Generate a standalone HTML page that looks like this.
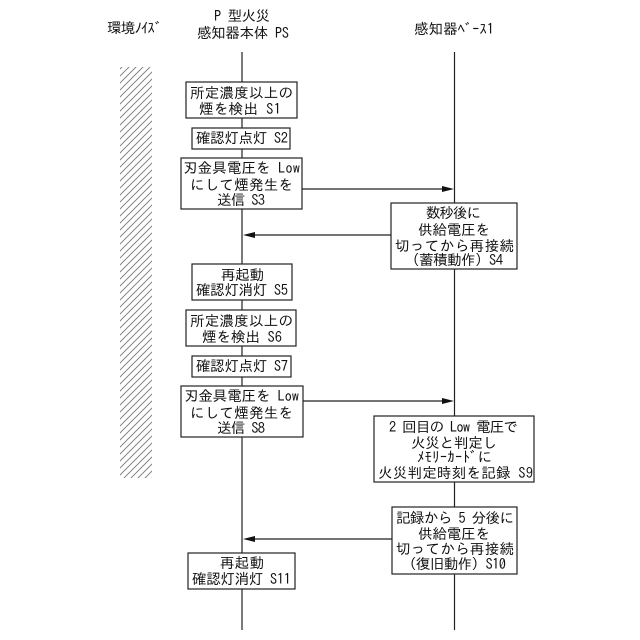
<!DOCTYPE html>
<html><head><meta charset="utf-8"><style>
html,body{margin:0;padding:0;background:#fff}
svg{display:block}
text{font-family:"IPAGothic","Liberation Sans","Noto Sans CJK JP",sans-serif;font-size:14.5px;fill:#111;text-anchor:middle}
rect{fill:#fff;stroke:#222;stroke-width:1.2}
line{stroke:#222;stroke-width:1.2}
polygon{fill:#111}
</style></head><body>
<svg width="640" height="640" viewBox="0 0 640 640" xmlns="http://www.w3.org/2000/svg">
<defs><pattern id="h" patternUnits="userSpaceOnUse" width="7" height="7"><path d="M-1.750 1.750L1.750-1.750M0 7L7 0M5.250 8.750L8.750 5.250" stroke="#777" stroke-width="0.9" fill="none"/></pattern></defs>
<rect x="120" y="67" width="32" height="411" style="fill:url(#h);stroke:none"/>
<line x1="242" y1="52" x2="242" y2="630"/>
<line x1="454.500" y1="52" x2="454.500" y2="630"/>

<line x1="302" y1="189" x2="444" y2="189"/><polygon points="454,189 442,186 442,192"/>
<line x1="391" y1="235" x2="253" y2="235"/><polygon points="243,235 255,232 255,238"/>
<line x1="303" y1="401" x2="444" y2="401"/><polygon points="454,401 442,398 442,404"/>
<line x1="392" y1="539" x2="253" y2="539"/><polygon points="243,539 255,536 255,542"/>

<text x="242" y="21" textLength="56">P 型火災</text>
<text x="243" y="38" textLength="92">感知器本体 PS</text>
<text x="134.500" y="33" textLength="55">環境ﾉｲｽﾞ</text>
<text x="454" y="34" textLength="80">感知器ﾍﾞｰｽ1</text>

<rect x="186" y="82" width="111" height="36"/>
<text x="241.500" y="98" textLength="103">所定濃度以上の</text>
<text x="240" y="114" textLength="82">煙を検出 S1</text>

<rect x="192" y="128" width="98" height="21"/>
<text x="242" y="143" textLength="92">確認灯点灯 S2</text>

<rect x="181" y="158" width="121" height="51"/>
<text x="241.500" y="173" textLength="117">刃金具電圧を Low</text>
<text x="241.500" y="190" textLength="103">にして煙発生を</text>
<text x="241" y="205" textLength="48">送信 S3</text>

<rect x="391" y="203" width="126" height="66"/>
<text x="453.500" y="218" textLength="55">数秒後に</text>
<text x="454" y="235" textLength="72">供給電圧を</text>
<text x="454.500" y="251" textLength="119">切ってから再接続</text>
<text x="454" y="265" textLength="98">（蓄積動作）S4</text>

<rect x="192" y="264" width="100" height="36"/>
<text x="242.500" y="280" textLength="43">再起動</text>
<text x="242" y="295" textLength="92">確認灯消灯 S5</text>

<rect x="186" y="310" width="110" height="36"/>
<text x="241.500" y="326" textLength="103">所定濃度以上の</text>
<text x="242" y="342" textLength="80">煙を検出 S6</text>

<rect x="192" y="356" width="99" height="21"/>
<text x="242" y="371" textLength="92">確認灯点灯 S7</text>

<rect x="181" y="386" width="122" height="51"/>
<text x="241.500" y="401" textLength="115">刃金具電圧を Low</text>
<text x="241.500" y="418" textLength="103">にして煙発生を</text>
<text x="241" y="433" textLength="48">送信 S8</text>

<rect x="374" y="416" width="160" height="66"/>
<text x="453.500" y="432" textLength="129">2 回目の Low 電圧で</text>
<text x="454" y="448" textLength="86">火災と判定し</text>
<text x="454.500" y="462" textLength="75">ﾒﾓﾘｰｶｰﾄﾞに</text>
<text x="455.500" y="478" textLength="155">火災判定時刻を記録 S9</text>

<rect x="392" y="507" width="125" height="67"/>
<text x="455" y="523" textLength="118">記録から 5 分後に</text>
<text x="454" y="539" textLength="72">供給電圧を</text>
<text x="455" y="554" textLength="118">切ってから再接続</text>
<text x="454" y="569" textLength="104">（復旧動作）S10</text>

<rect x="188" y="553" width="107" height="36"/>
<text x="242" y="568" textLength="44">再起動</text>
<text x="241.500" y="584" textLength="99">確認灯消灯 S11</text>
</svg>
</body></html>
